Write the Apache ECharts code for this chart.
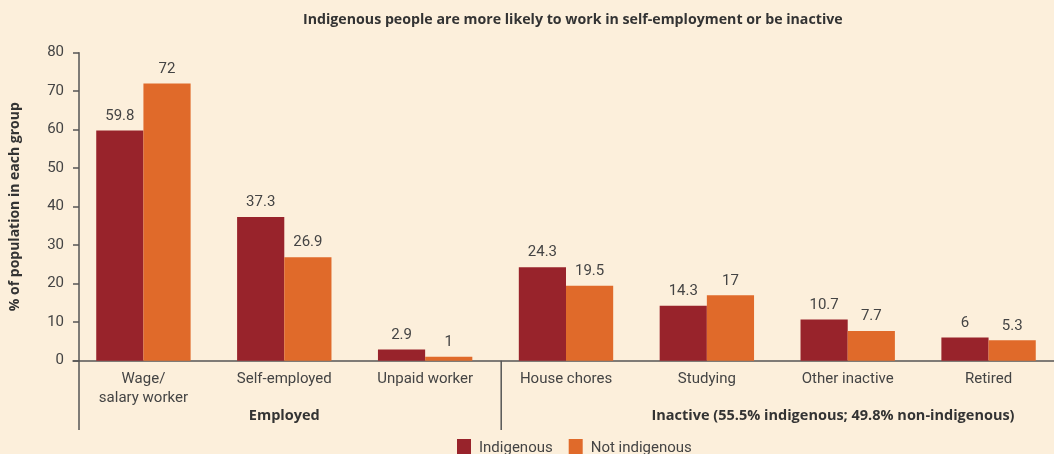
<!DOCTYPE html>
<html>
<head>
<meta charset="utf-8">
<script src="https://cdn.jsdelivr.net/npm/echarts@6/dist/echarts.min.js"></script>
<style>
html,body{margin:0;padding:0;background:#fcefdb;}
#c{width:1054px;height:454px;}
</style>
</head>
<body>
<div id="c"></div>
<script>
const categories = ['Wage/\nsalary worker','Self-employed','Unpaid worker','House chores','Studying','Other inactive','Retired'];
const indigenous = [59.8, 37.3, 2.9, 24.3, 14.3, 10.7, 6];
const notIndigenous = [72, 26.9, 1, 19.5, 17, 7.7, 5.3];
const yTicks = [0,10,20,30,40,50,60,70,80];
const seriesNames = ['Indigenous','Not indigenous'];
const groupLabels = ['Employed','Inactive (55.5% indigenous; 49.8% non-indigenous)'];

const FONT = 'Roboto';
const BFONT = 'Open Sans';
const TXT = '#444444';
const AX = '#555555';
const chart = echarts.init(document.getElementById('c'));
const labelOpt = {show:true, position:'top', distance:7, fontFamily:FONT, fontSize:15, color:TXT};
chart.setOption({
  backgroundColor:'#fcefdb',
  animation:false,
  textStyle:{fontFamily:FONT},
  title:{
    text:'Indigenous people are more likely to work in self-employment or be inactive',
    left:298, top:8,
    textStyle:{fontFamily:BFONT, fontSize:14.2, fontWeight:'bold', color:'#333'}
  },
  legend:{
    data:seriesNames, left:452, top:434, itemWidth:14, itemHeight:18, itemGap:16,
    icon:'rect',
    textStyle:{fontFamily:FONT, fontSize:15, color:TXT, padding:[0,0,0,3]}
  },
  grid:{left:73, top:52.7, width:986, height:308, containLabel:false, outerBoundsMode:'none'},
  xAxis:{
    type:'category', data:categories, boundaryGap:true,
    axisLine:{lineStyle:{color:AX, width:1.5}},
    axisTick:{show:false},
    axisLabel:{fontFamily:FONT, fontSize:15, color:TXT, margin:9, lineHeight:19, interval:0}
  },
  yAxis:{
    type:'value', min:yTicks[0], max:yTicks[yTicks.length-1], interval:10, offset:-6,
    name:'% of population in each group', nameLocation:'middle', nameGap:57, nameRotate:90,
    nameTextStyle:{fontFamily:BFONT, fontSize:14, fontWeight:'bold', color:'#333'},
    axisLine:{show:true, lineStyle:{color:AX, width:1.5}},
    axisTick:{show:true, length:6, lineStyle:{color:AX, width:1.5}},
    axisLabel:{fontFamily:FONT, fontSize:15, color:TXT, margin:15},
    splitLine:{show:false}
  },
  series:[
    {name:seriesNames[0], type:'bar', data:indigenous, barGap:'0%', barCategoryGap:'33%',
     itemStyle:{color:'#98232b'}, label:labelOpt},
    {name:seriesNames[1], type:'bar', data:notIndigenous, barGap:'0%', barCategoryGap:'33%',
     itemStyle:{color:'#e06a2a'}, label:labelOpt}
  ]
});

// decorations: axis extension, divider, group labels
const y0 = chart.convertToPixel({yAxisIndex:0}, 0);
const xStart = chart.convertToPixel({xAxisIndex:0}, categories[0]);
const xSelf = chart.convertToPixel({xAxisIndex:0}, categories[1]);
const band = xSelf - xStart;
const yAxisX = 73 + 6;
const divX = chart.convertToPixel({xAxisIndex:0}, categories[2]) + band*0.54;
const lineStyle = {stroke:AX, lineWidth:1.5};
chart.setOption({
  graphic:[
    {type:'line', shape:{x1:yAxisX, y1:y0, x2:yAxisX, y2:430}, style:lineStyle, silent:true},
    {type:'line', shape:{x1:divX, y1:y0, x2:divX, y2:430}, style:lineStyle, silent:true},
    {type:'text', x:xSelf, y:416, style:{text:groupLabels[0], align:'center', verticalAlign:'middle',
      font:'bold 14.5px "Open Sans"', fill:'#333'}},
    {type:'text', x:833, y:416, style:{text:groupLabels[1], align:'center', verticalAlign:'middle',
      font:'bold 14.5px "Open Sans"', fill:'#333'}}
  ]
});
</script>
</body>
</html>
